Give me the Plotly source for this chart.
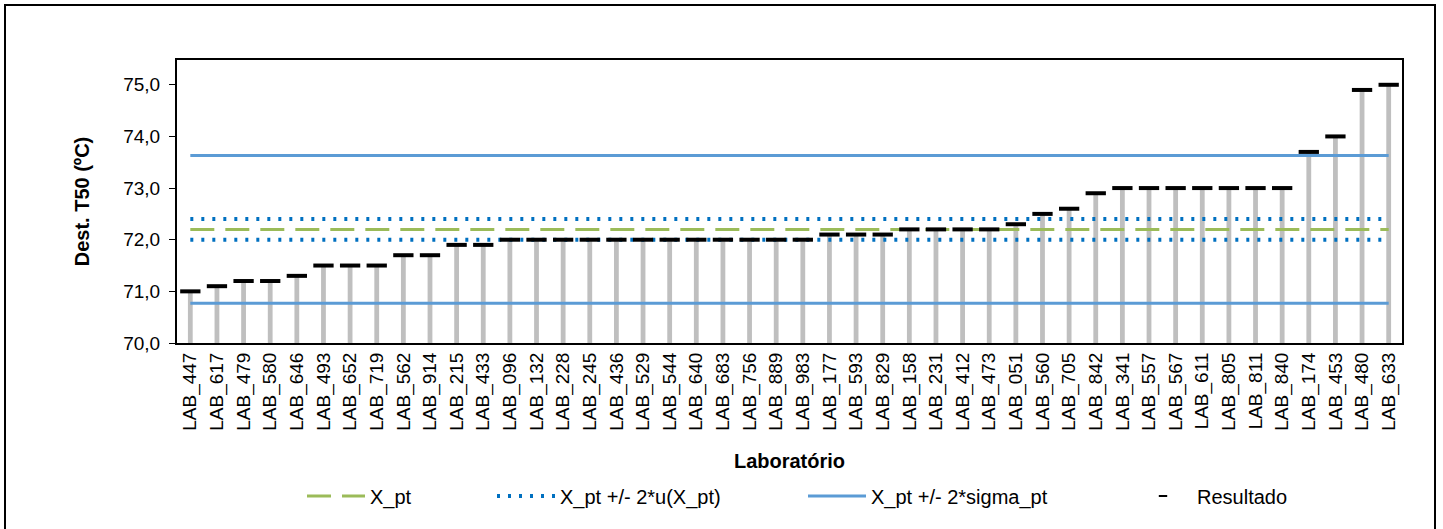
import plotly.graph_objects as go

labs = ["LAB_447","LAB_617","LAB_479","LAB_580","LAB_646","LAB_493","LAB_652","LAB_719","LAB_562","LAB_914",
        "LAB_215","LAB_433","LAB_096","LAB_132","LAB_228","LAB_245","LAB_436","LAB_529","LAB_544","LAB_640",
        "LAB_683","LAB_756","LAB_889","LAB_983","LAB_177","LAB_593","LAB_829","LAB_158","LAB_231","LAB_412",
        "LAB_473","LAB_051","LAB_560","LAB_705","LAB_842","LAB_341","LAB_557","LAB_567","LAB_611","LAB_805",
        "LAB_811","LAB_840","LAB_174","LAB_453","LAB_480","LAB_633"]
results = [71.0,71.1,71.2,71.2,71.3,71.5,71.5,71.5,71.7,71.7,
           71.9,71.9,72.0,72.0,72.0,72.0,72.0,72.0,72.0,72.0,
           72.0,72.0,72.0,72.0,72.1,72.1,72.1,72.2,72.2,72.2,
           72.2,72.3,72.5,72.6,72.9,73.0,73.0,73.0,73.0,73.0,
           73.0,73.0,73.7,74.0,74.9,75.0]
x_pt = 72.2
u_low, u_high = 72.0, 72.4
sigma_low, sigma_high = 70.77, 73.63
y_ticks = [70, 71, 72, 73, 74, 75]

n = len(labs)
FONT = "Arial, Liberation Sans, sans-serif"

# plot area in pixels
W, H = 1443, 529
L, R, T, B = 177, 41, 60, 186
pw, ph = W - L - R, H - T - B

def px_x(p):
    return (p - L) / pw

def px_y(p):
    return (H - B - p) / ph

fig = go.Figure()

fig.add_trace(go.Bar(x=labs, y=results, width=0.18, marker=dict(color="#BFBFBF", line=dict(width=0)),
                     showlegend=False, hoverinfo="skip"))

fig.add_trace(go.Scatter(x=labs, y=[x_pt]*n, mode="lines", name="X_pt",
                         line=dict(color="#9BBB59", width=3, dash="24px,11px"), legend="legend"))
fig.add_trace(go.Scatter(x=labs, y=[u_high]*n, mode="lines", name="X_pt +/- 2*u(X_pt)",
                         line=dict(color="#0070C0", width=4, dash="3px,8px"), legend="legend2"))
fig.add_trace(go.Scatter(x=labs, y=[u_low]*n, mode="lines", showlegend=False,
                         line=dict(color="#0070C0", width=4, dash="3px,8px")))
fig.add_trace(go.Scatter(x=labs, y=[sigma_high]*n, mode="lines", name="X_pt +/- 2*sigma_pt",
                         line=dict(color="#5B9BD5", width=3), legend="legend3"))
fig.add_trace(go.Scatter(x=labs, y=[sigma_low]*n, mode="lines", showlegend=False,
                         line=dict(color="#5B9BD5", width=3)))

fig.add_trace(go.Scatter(x=labs, y=results, mode="markers", showlegend=False,
                         marker=dict(symbol="line-ew", size=14.5, color="black",
                                     line=dict(color="black", width=4))))
# legend-only entry for the results marker
fig.add_trace(go.Scatter(x=[None], y=[None], mode="markers", name="Resultado", legend="legend4",
                         marker=dict(symbol="line-ew", size=6, color="black",
                                     line=dict(color="black", width=2))))

leg_y = px_y(496)
leg_common = dict(orientation="h", yanchor="middle", y=leg_y, xanchor="left", itemwidth=58,
                  font=dict(family=FONT, size=20, color="black"), bgcolor="rgba(0,0,0,0)")

fig.update_layout(
    width=W, height=H,
    margin=dict(l=L, r=R, t=T, b=B),
    paper_bgcolor="white", plot_bgcolor="white",
    separators=",.",
    font=dict(family=FONT, size=20, color="black"),
    legend=dict(x=px_x(302), **leg_common),
    legend2=dict(x=px_x(492), **leg_common),
    legend3=dict(x=px_x(803), **leg_common),
    legend4=dict(x=px_x(1129), **leg_common),
    xaxis=dict(type="category", tickangle=-90, showgrid=False, ticks="",
               tickfont=dict(family=FONT, size=19, color="black"),
               showline=True, linecolor="black", linewidth=2, mirror=True,
               title=dict(text="<b>Laboratório</b>", font=dict(family=FONT, size=20, color="black"),
                          standoff=24),
               range=[-0.5, n - 0.5]),
    yaxis=dict(range=[70, 75.48], tickvals=y_ticks, tickformat=".1f", showgrid=False,
               ticks="outside", ticklen=6, tickcolor="black", tickwidth=1,
               ticklabelstandoff=5,
               tickfont=dict(family=FONT, size=19, color="black"),
               showline=True, linecolor="black", linewidth=2, mirror=True,
               title=dict(text="<b>Dest. T50 (ºC)</b>", font=dict(family=FONT, size=20, color="black"),
                          standoff=28)),
)

fig.add_shape(type="rect", xref="paper", yref="paper",
              x0=px_x(5), x1=px_x(1435), y0=px_y(535), y1=px_y(5),
              line=dict(color="black", width=2), fillcolor="rgba(0,0,0,0)", layer="below")

fig.write_html("out.html")
